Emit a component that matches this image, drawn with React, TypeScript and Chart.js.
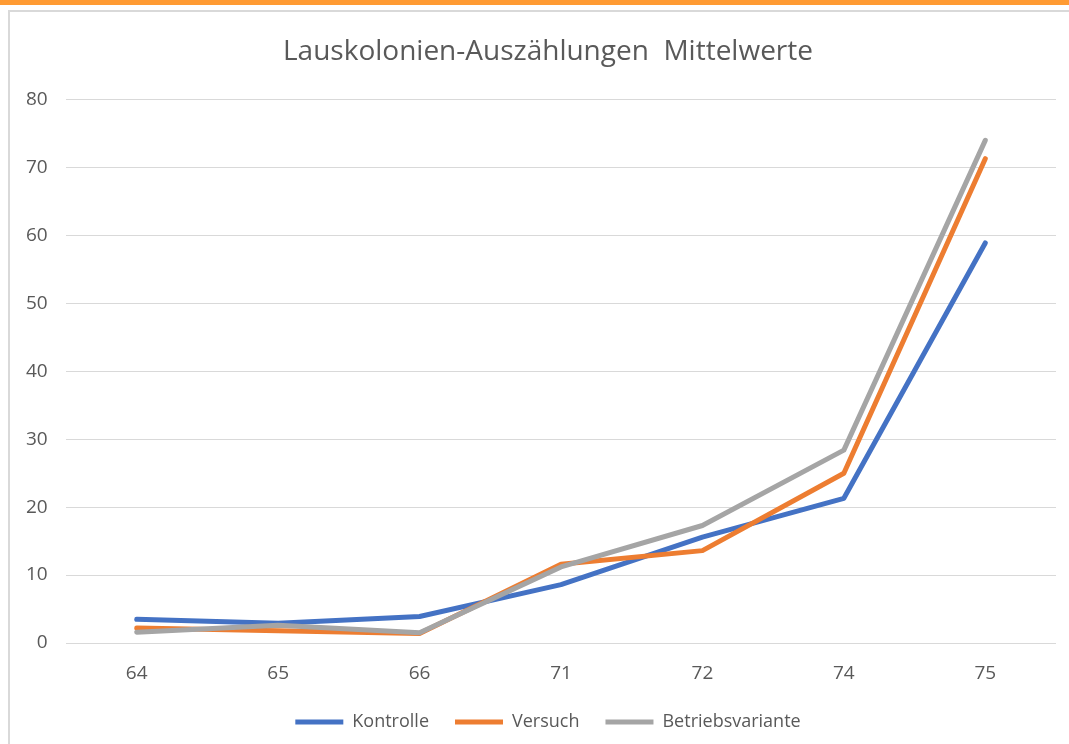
import React, { useEffect, useRef } from "react";
import { Chart, registerables } from "chart.js";

Chart.register(...registerables);

const categories = ["64", "65", "66", "71", "72", "74", "75"];
const kontrolle = [3.5, 2.9, 3.9, 8.6, 15.6, 21.3, 58.9];
const versuch = [2.2, 1.8, 1.4, 11.6, 13.6, 25.0, 71.3];
const betriebsvariante = [1.6, 2.6, 1.5, 11.2, 17.3, 28.4, 74.0];
const seriesNames = ["Kontrolle", "Versuch", "Betriebsvariante"];
const seriesColors = ["#4472C4", "#ED7D31", "#A5A5A5"];
const titleText = "Lauskolonien-Auszählungen  Mittelwerte";

export default function App() {
  const ref = useRef<HTMLCanvasElement | null>(null);

  useEffect(() => {
    if (!ref.current) return;
    const values = [kontrolle, versuch, betriebsvariante];
    const chart = new Chart(ref.current, {
      type: "line",
      data: {
        labels: categories,
        datasets: values.map((v, i) => ({
          label: seriesNames[i],
          data: v,
          borderColor: seriesColors[i],
          backgroundColor: seriesColors[i],
          borderWidth: 5,
          borderCapStyle: "round" as const,
          borderJoinStyle: "round" as const,
          pointRadius: 0,
          tension: 0,
          order: 3 - i,
        })),
      },
      options: {
        animation: false,
        responsive: false,
        maintainAspectRatio: false,
        layout: { padding: { left: 40, right: 13, top: 0, bottom: 3 } },
        plugins: {
          tooltip: { enabled: false },
          title: {
            display: true,
            text: titleText,
            color: "#595959",
            font: { family: "'Open Sans'", size: 28, weight: "normal" },
            padding: { top: 35, bottom: 31 },
          },
          legend: {
            position: "bottom",
            labels: {
              usePointStyle: true,
              pointStyle: "line",
              pointStyleWidth: 48,
              color: "#595959",
              font: { family: "'Open Sans'", size: 18 },
              padding: 26,
              sort: (a: any, b: any) => a.datasetIndex - b.datasetIndex,
            },
          },
        },
        scales: {
          x: {
            offset: true,
            grid: { display: false, drawTicks: false },
            border: { display: false },
            ticks: {
              color: "#595959",
              font: { family: "'Open Sans'", size: 19 },
              padding: 19,
            },
            afterFit: (s: any) => {
              s.height = 44;
            },
          },
          y: {
            min: 0,
            max: 80,
            grid: { color: "#D9D9D9", lineWidth: 1, drawTicks: false },
            border: { display: false },
            ticks: {
              stepSize: 10,
              color: "#595959",
              font: { family: "'Open Sans'", size: 19 },
              mirror: true,
              crossAlign: "far",
              padding: -40,
            },
            afterFit: (s: any) => {
              s.width = 26;
            },
          },
        },
      },
    });
    return () => chart.destroy();
  }, []);

  return (
    <div style={{ position: "absolute", left: 0, top: 0, width: 1069, height: 744, background: "#fff", overflow: "hidden" }}>
      <div style={{ position: "absolute", left: 0, top: 0, width: 1069, height: 5, background: "#FF9B33" }} />
      <div style={{ position: "absolute", left: 8, top: 10, width: 1069, height: 2, background: "#D9D9D9" }} />
      <div style={{ position: "absolute", left: 8, top: 10, width: 2, height: 744, background: "#D9D9D9" }} />
      <canvas ref={ref} width={1069} height={744} style={{ position: "absolute", left: 0, top: 0, width: 1069, height: 744 }} />
    </div>
  );
}
